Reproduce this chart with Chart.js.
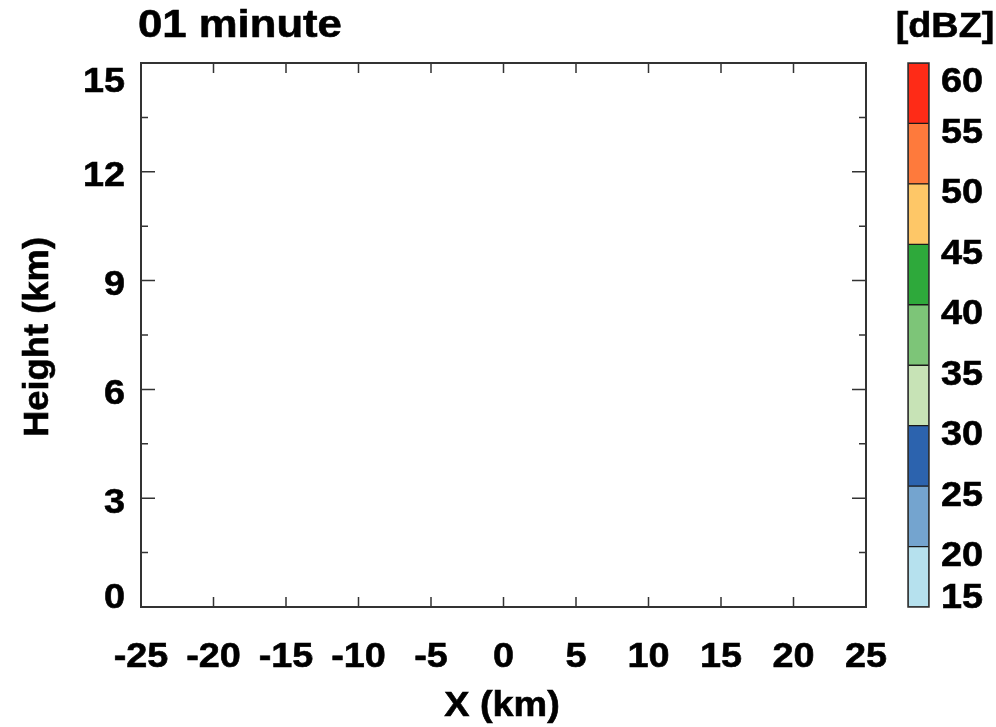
<!DOCTYPE html>
<html>
<head>
<meta charset="utf-8">
<script src="https://cdn.jsdelivr.net/npm/chart.js@4.4.1/dist/chart.umd.min.js"></script>
<style>
  html, body { margin: 0; padding: 0; background: #fff; }
  #wrap { position: relative; width: 996px; height: 727px; }
  #wrap canvas { position: absolute; left: 0; top: 0; }
</style>
</head>
<body>
<div id="wrap">
  <canvas id="section" width="996" height="727"></canvas>
  <canvas id="colorbar" width="996" height="727"></canvas>
</div>
<script>
// axes of the vertical cross-section
const xTicks = [-25, -20, -15, -10, -5, 0, 5, 10, 15, 20, 25];
const yTicks = [0, 3, 6, 9, 12, 15];
const yMinorTicks = [1.5, 4.5, 7.5, 10.5, 13.5];

// reflectivity colour table
const dbzLevels = [15, 20, 25, 30, 35, 40, 45, 50, 55, 60];
const dbzColors = ['#b6e1ee', '#74a4cf', '#2c63ae', '#c7e3b6', '#7dc578', '#2ea93b', '#fec767', '#fe7a3c', '#fe2b17'];

const titleText = '01 minute';
const xTitle = 'X (km)';
const yTitle = 'Height (km)';
const unitText = '[dBZ]';

const FS = 35;            // font size
const SX = 1.08;          // horizontal stretch of the lettering
const AXIS_COLOR = '#333';
const font = size => `bold ${size}px "Liberation Sans", Arial, sans-serif`;

// text centred (vertically on the cap height) at x,y
function label(ctx, str, x, y, align, size, sx) {
  const fs = size || FS;
  ctx.save();
  ctx.translate(x, y);
  ctx.scale(sx || SX, 1);
  ctx.font = font(fs);
  ctx.fillStyle = '#000';
  ctx.strokeStyle = '#000';
  ctx.lineWidth = 0.6;
  ctx.textAlign = align;
  ctx.textBaseline = 'alphabetic';
  ctx.fillText(str, 0, 0.358 * fs);
  ctx.strokeText(str, 0, 0.358 * fs);
  ctx.restore();
}

// keep tick labels inside the vertical extent of the frame
function labelY(py, shift, top, bottom) {
  return Math.min(Math.max(py + shift, top + 16), bottom - 11.5);
}

const frameAxes = {
  id: 'frameAxes',
  afterDraw(chart) {
    const { ctx, chartArea: a, scales: { x, y } } = chart;
    ctx.save();
    ctx.strokeStyle = AXIS_COLOR;
    ctx.lineWidth = 1.5;
    ctx.beginPath();
    xTicks.forEach(v => {
      const px = x.getPixelForValue(v);
      ctx.moveTo(px, a.bottom); ctx.lineTo(px, a.bottom - 10);
      ctx.moveTo(px, a.top); ctx.lineTo(px, a.top + 10);
    });
    yTicks.forEach(v => {
      const py = y.getPixelForValue(v);
      ctx.moveTo(a.left, py); ctx.lineTo(a.left + 14, py);
      ctx.moveTo(a.right, py); ctx.lineTo(a.right - 14, py);
    });
    yMinorTicks.forEach(v => {
      const py = y.getPixelForValue(v);
      ctx.moveTo(a.left, py); ctx.lineTo(a.left + 7, py);
      ctx.moveTo(a.right, py); ctx.lineTo(a.right - 7, py);
    });
    ctx.stroke();
    ctx.lineWidth = 2;
    ctx.strokeRect(a.left, a.top, a.right - a.left, a.bottom - a.top);
    ctx.restore();

    xTicks.forEach(v => label(ctx, String(v), x.getPixelForValue(v), 654, 'center'));
    yTicks.forEach(v => label(ctx, String(v), 125, labelY(y.getPixelForValue(v), 2, a.top, a.bottom), 'right'));

    label(ctx, titleText, 138, 23, 'left', 39, 1.12);
    label(ctx, xTitle, 502, 703, 'center');

    // rotated axis title
    ctx.save();
    ctx.translate(48, 337);
    ctx.rotate(-Math.PI / 2);
    ctx.scale(1.04, 1.0);
    ctx.font = font(FS);
    ctx.fillStyle = '#000';
    ctx.strokeStyle = '#000';
    ctx.lineWidth = 0.6;
    ctx.textAlign = 'center';
    ctx.textBaseline = 'alphabetic';
    ctx.fillText(yTitle, 0, 0);
    ctx.strokeText(yTitle, 0, 0);
    ctx.restore();
  }
};

new Chart(document.getElementById('section'), {
  type: 'scatter',
  data: { datasets: [{ data: [] }] },
  options: {
    responsive: false,
    animation: false,
    devicePixelRatio: 1,
    layout: { padding: { left: 141, right: 130, top: 63, bottom: 120 } },
    plugins: { legend: { display: false }, tooltip: { enabled: false } },
    scales: {
      x: { type: 'linear', min: -25, max: 25, display: false },
      y: { type: 'linear', min: 0, max: 15, display: false }
    }
  },
  plugins: [frameAxes]
});

const colorbarLabels = {
  id: 'colorbarLabels',
  afterDraw(chart) {
    const { ctx, chartArea: a, scales: { y } } = chart;
    ctx.save();
    ctx.strokeStyle = AXIS_COLOR;
    ctx.lineWidth = 1.5;
    ctx.strokeRect(a.left, a.top, a.right - a.left, a.bottom - a.top);
    ctx.restore();
    dbzLevels.forEach(v => label(ctx, String(v), 941, labelY(y.getPixelForValue(v), 7, a.top, a.bottom), 'left'));
    label(ctx, unitText, 945, 24, 'center');
  }
};

new Chart(document.getElementById('colorbar'), {
  type: 'bar',
  data: {
    labels: ['dBZ'],
    datasets: dbzColors.map((c, i) => ({
      data: [[dbzLevels[i], dbzLevels[i + 1]]],
      backgroundColor: c,
      borderColor: '#1a1a1a',
      borderWidth: 1,
      borderSkipped: false,
      barPercentage: 1,
      categoryPercentage: 1
    }))
  },
  options: {
    responsive: false,
    animation: false,
    devicePixelRatio: 1,
    layout: { padding: { left: 908, right: 67, top: 63, bottom: 120 } },
    plugins: { legend: { display: false }, tooltip: { enabled: false } },
    scales: {
      x: { display: false, stacked: true },
      y: { display: false, min: 15, max: 60 }
    }
  },
  plugins: [colorbarLabels]
});
</script>
</body>
</html>
